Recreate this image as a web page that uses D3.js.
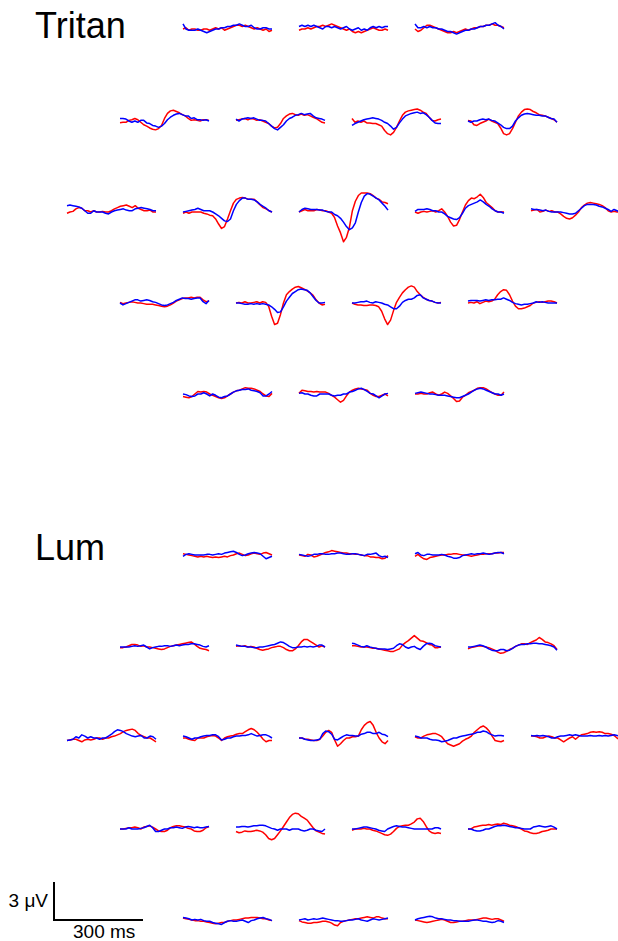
<!DOCTYPE html>
<html>
<head>
<meta charset="utf-8">
<script src="https://cdn.jsdelivr.net/npm/d3@7"></script>
<style>
  html, body { margin: 0; padding: 0; background: #fff; }
  svg { display: block; }
  text { font-family: "Liberation Sans", Arial, Helvetica, sans-serif; fill: #000; }
</style>
</head>
<body>
<svg id="chart" width="618" height="941"></svg>
<script>
// ---------------- DATA ----------------
const panels = ["Tritan", "Lum"];
// electrode layout: traces per row (rows of the montage)
const rowCounts = [3, 4, 5, 4, 3];
// sample times (ms) of each trace
const timesMs = [0,10,20,30,40,50,60,70,80,90,100,110,120,130,140,150,160,170,180,190,200,210,220,230,240,250,260,270,280,290,300];

// Tritan condition – red series (µV), one row per electrode
const tritanRed = [
  [0,0.1,-0.1,0,0,-0.1,-0.1,0,0,-0.1,0,0.1,0,0.1,-0.1,0,0.1,0.2,0.3,0.3,0.2,0.3,0.2,0.1,0,0.1,0,-0.1,0,-0.2,-0.1],
  [-0.1,0,0,0.1,0,0.1,0.2,0.2,0.3,0.2,0.3,0.4,0.3,0.2,0.1,0,-0.1,0,-0.2,-0.3,-0.2,-0.3,-0.2,-0.1,0,0.1,0,-0.1,-0.1,0,-0.1],
  [0,-0.2,-0.1,0.1,0.3,0.3,0.2,0.1,0,-0.1,-0.2,-0.3,-0.3,-0.2,-0.3,-0.2,-0.1,0,-0.1,0,0.1,0.1,0.2,0.2,0.3,0.3,0.4,0.3,0.3,0.2,0.1],
  [-0.13,-0.1,-0.1,0.05,0.1,0.2,0.1,-0.1,-0.3,-0.4,-0.55,-0.65,-0.7,-0.6,-0.35,0.2,0.6,0.8,0.85,0.75,0.65,0.5,0.4,0.2,0.05,0.1,0.05,0,0.1,0.1,0.05],
  [0.05,0.1,0.15,0.2,0.1,0.2,0.15,0.05,0.1,0,-0.1,-0.2,-0.4,-0.55,-0.5,-0.2,0.2,0.4,0.55,0.6,0.5,0.45,0.55,0.45,0.5,0.4,0.3,0.2,0.05,-0.1,-0.15],
  [0.2,-0.1,0,-0.1,0,-0.15,-0.15,-0.2,-0.2,-0.3,-0.4,-0.75,-1.0,-1.1,-0.9,-0.5,0,0.45,0.7,0.8,0.85,0.9,0.95,0.85,0.7,0.6,0.3,0.05,0,0.1,0.15],
  [0.05,0,-0.3,-0.35,-0.2,-0.1,0,0.15,0,-0.1,-0.2,-0.55,-1.0,-1.1,-1.0,-0.6,-0.1,0.4,0.7,0.9,0.95,0.9,0.75,0.65,0.5,0.45,0.4,0.3,0.2,0.1,-0.1],
  [-0.1,0,0.05,0.25,0.35,0.3,0.1,0.1,0,0.1,0,0,0.05,0,0,0.1,0.25,0.35,0.45,0.5,0.55,0.45,0.35,0.5,0.3,0.2,0.1,0.1,0.15,0,0],
  [-0.1,0,-0.1,0,0,0,0,-0.1,-0.15,-0.25,-0.3,-0.55,-0.95,-1.3,-1.15,-0.55,0.1,0.7,1.0,1.1,1.15,1.1,1.0,1.0,1.0,0.8,0.55,0.35,0.25,0.1,0],
  [0,0.1,0.2,0.1,0.1,0.1,0.2,0.15,0.1,0.1,0,-0.1,-0.45,-1.1,-1.65,-2.35,-2.0,-1.2,0.1,0.85,1.3,1.5,1.5,1.5,1.45,1.3,1.1,1.0,0.8,0.75,0.65],
  [0,-0.1,0,0.05,0,0.05,0.1,0,0.1,0.25,0,-0.35,-0.8,-1.1,-1.05,-0.6,0,0.55,0.9,1.1,1.05,1.2,1.4,1.15,0.75,0.55,0.35,0.1,0,0,0],
  [0.1,0.15,0.2,0,0.05,0.15,0.05,0.1,0,0,-0.15,-0.35,-0.5,-0.55,-0.45,-0.25,0,0.35,0.55,0.7,0.75,0.7,0.65,0.6,0.5,0.35,0.1,0,0.05,0,0],
  [0.05,-0.05,0,0.05,0.1,0.05,0,0,-0.05,-0.1,-0.1,-0.1,-0.15,-0.2,-0.25,-0.3,-0.25,-0.15,0,0.15,0.25,0.35,0.4,0.4,0.45,0.4,0.45,0.45,0.25,0.1,0.15],
  [0,0.05,0,0.1,0,0,0.05,0.1,0,0.1,0.05,-0.25,-1.05,-1.7,-1.6,-0.9,0,0.65,0.9,1.1,1.25,1.3,1.2,1.1,0.95,0.8,0.6,0.25,0,-0.15,-0.1],
  [0,-0.1,-0.15,-0.15,-0.2,-0.2,-0.15,-0.15,-0.2,-0.3,-0.65,-1.25,-1.7,-1.35,-0.6,0.05,0.45,0.8,1.05,1.25,1.35,1.25,0.9,0.65,0.45,0.3,0.2,0.15,0.05,0,0.05],
  [0,0.05,0,0.1,-0.05,0.05,0.15,0.1,0.15,0.3,0.65,0.9,1.05,1.0,0.65,0.15,-0.25,-0.45,-0.45,-0.4,-0.3,-0.2,0,0.05,0.1,0.05,0.1,0.15,0.15,0.1,0],
  [-0.2,-0.25,-0.3,-0.2,0,0.2,0.15,0.2,0.15,0,-0.1,-0.2,-0.3,-0.35,-0.3,-0.15,0,0.15,0.25,0.3,0.4,0.5,0.45,0.45,0.4,0.3,0.2,0,-0.15,-0.2,0.05],
  [0.05,0.3,0.25,0.2,0.2,0.15,0.2,0.15,0.15,0.15,0.05,-0.1,-0.25,-0.45,-0.65,-0.5,-0.15,0.15,0.3,0.4,0.45,0.4,0.35,0.3,0.05,-0.1,-0.2,-0.2,-0.1,0,-0.15],
  [0,0,0.05,0,0,0.1,0.15,0,-0.1,0,0.15,0.05,-0.15,-0.35,-0.6,-0.55,-0.25,-0.1,0.1,0.2,0.3,0.45,0.5,0.5,0.4,0.25,0.1,0,-0.1,-0.1,0.15]
];

// Tritan condition – blue series (µV)
const tritanBlue = [
  [0.4,0,-0.1,-0.1,-0.1,0,-0.1,-0.2,-0.3,-0.2,-0.1,0,0,0.1,0.1,0.2,0.2,0.3,0.3,0.4,0.3,0.2,0.2,0.3,0.1,0,0,0.1,0.1,0,0],
  [0.2,0.3,0.2,0.3,0.2,0.3,0.2,0.1,0,0.2,0.2,0.1,0.2,0.1,0,0.1,0.2,0,-0.1,0,0.1,-0.1,0,-0.1,0.1,0.2,0.1,0.2,0.1,0.2,0.2],
  [0.4,0.1,0.1,0.2,0.1,0.2,0.1,0.1,0,0,-0.1,-0.2,-0.2,-0.3,-0.4,-0.3,-0.2,-0.1,-0.1,0,0,0.1,0.2,0.2,0.3,0.3,0.4,0.5,0.3,0.2,0],
  [0.2,0.2,0.15,0,-0.1,0,-0.1,0.05,0.05,-0.15,-0.2,-0.35,-0.4,-0.5,-0.4,-0.2,0.1,0.3,0.45,0.55,0.6,0.5,0.4,0.4,0.2,0.25,0.1,0.1,0.05,0.1,0],
  [0.15,0,0.15,0.2,0.25,0.2,0.25,0.15,0.05,0.05,0,-0.2,-0.4,-0.6,-0.7,-0.5,-0.3,0,0.2,0.3,0.45,0.5,0.6,0.5,0.55,0.6,0.4,0.25,0.2,0.15,0.05],
  [-0.35,-0.2,-0.1,0,0.1,0.15,0.2,0.25,0.2,0.15,0.05,-0.1,-0.2,-0.4,-0.65,-0.5,-0.15,0.15,0.4,0.5,0.6,0.65,0.7,0.6,0.65,0.5,0.3,0.05,-0.15,-0.2,-0.2],
  [0,-0.1,0,0,0.1,0.15,0.1,0.15,0.05,0,-0.15,-0.3,-0.5,-0.6,-0.6,-0.4,0,0.25,0.45,0.55,0.6,0.55,0.5,0.45,0.45,0.4,0.4,0.3,0.2,0.15,-0.1],
  [0.5,0.55,0.5,0.45,0.4,0.3,0.1,-0.1,-0.1,0.1,0,0,0,-0.1,-0.15,0,0.1,0.15,0.2,0.25,0.15,0.1,0.1,0.25,0.3,0.35,0.3,0.25,0.2,0.1,0.1],
  [0,0.05,0.1,0.15,0.2,0.3,0.2,0.1,0.1,0.1,0,-0.15,-0.3,-0.5,-0.7,-0.75,-0.55,0.1,0.6,0.9,1.1,1.1,1.0,1.0,0.95,0.8,0.6,0.45,0.3,0.1,0],
  [0,0.2,0.3,0.25,0.2,0.2,0.2,0.15,0.15,0.05,0,0,-0.2,-0.3,-0.5,-0.8,-1.15,-1.4,-1.25,-0.85,0,0.75,1.25,1.45,1.4,1.25,1.1,0.95,0.7,0.45,0.15],
  [0.05,0.2,0.2,0.2,0.25,0.2,0.1,0.1,0,0,-0.15,-0.35,-0.45,-0.55,-0.6,-0.45,-0.1,0.3,0.5,0.6,0.7,0.8,0.95,0.8,0.6,0.45,0.25,0.1,0,0,-0.1],
  [0.25,0.2,0.2,0.15,0.1,0.15,0.05,0,0,0,0,-0.05,-0.1,-0.15,-0.15,-0.1,0.1,0.3,0.5,0.6,0.6,0.6,0.55,0.45,0.4,0.3,0.2,0.05,0.2,0.1,0],
  [0,-0.15,-0.05,0.05,0.15,0.25,0.25,0.15,0.2,0.25,0.2,0.1,0.05,-0.05,-0.15,-0.2,-0.15,-0.05,0.05,0.2,0.3,0.4,0.35,0.35,0.3,0.35,0.4,0.4,0.1,-0.05,0.2],
  [0,0,-0.05,-0.1,-0.1,-0.05,-0.1,-0.05,-0.1,-0.05,-0.1,-0.15,-0.3,-0.5,-0.75,-0.7,-0.3,0.15,0.45,0.75,0.9,1.05,1.1,1.05,1.0,0.8,0.5,0.2,0,0,0.05],
  [0,0,0.05,0.1,0.1,0.15,0.05,0,0.1,0.05,0,-0.1,-0.15,-0.3,-0.45,-0.45,-0.25,0.05,0.2,0.3,0.3,0.4,0.6,0.65,0.4,0.3,0.2,0.15,0.05,0,0],
  [0.15,0.2,0.2,0.2,0.15,0.2,0.25,0.2,0.25,0.25,0.3,0.3,0.4,0.3,0.2,0.05,-0.05,-0.1,-0.15,-0.1,-0.1,-0.05,0,0.1,0.05,0.1,0.05,0,0,0,0],
  [0,-0.05,-0.15,-0.2,-0.15,0,0,0.1,0,-0.15,0,-0.1,-0.25,-0.3,-0.2,-0.15,0,0.15,0.25,0.3,0.35,0.35,0.4,0.3,0.25,0.2,0.1,-0.15,-0.15,0,0.2],
  [0.05,0.1,0,0,-0.1,-0.15,-0.15,0,0,0,0,-0.1,-0.15,-0.1,-0.1,0,0,0.15,0.2,0.3,0.4,0.45,0.35,0.2,0.05,0,-0.15,-0.3,-0.15,0,0.05],
  [0.05,0.1,0.15,0.1,0.05,0,0,-0.05,-0.1,-0.1,-0.1,-0.15,-0.2,-0.25,-0.3,-0.3,-0.2,-0.1,0,0.15,0.3,0.4,0.45,0.4,0.3,0.2,0.1,0,0,-0.1,0]
];

// Luminance condition – red series (µV)
const lumRed = [
  [0.1,0.05,0,-0.05,-0.1,-0.15,-0.1,-0.15,-0.1,-0.15,-0.2,-0.15,-0.2,-0.15,-0.1,-0.15,-0.05,0,0.1,0.15,0.05,-0.05,0,0.1,0.15,0.1,0.05,0.15,0.2,0.1,0],
  [0,-0.05,-0.1,0.05,0,-0.15,-0.1,0,0.1,0.2,0.25,0.35,0.3,0.25,0.2,0.15,0.15,0.1,0.1,0.05,0.05,0,-0.05,-0.05,-0.15,-0.15,-0.2,-0.2,-0.3,-0.25,-0.05],
  [-0.1,0.05,-0.15,-0.3,-0.35,-0.2,-0.15,-0.1,-0.05,0,0,0.05,0.05,0.1,0.1,0.05,0,0,-0.05,-0.1,-0.05,0,0.05,0.05,0.1,0.1,0.1,0.15,0.15,0.2,0.2],
  [-0.05,-0.05,0,0.1,0.2,0.2,0.15,0.05,0.1,0,0,-0.05,-0.1,-0.15,-0.2,-0.15,-0.05,0.05,0.1,0.15,0.2,0.25,0.3,0.35,0.4,0.25,0.05,-0.1,-0.15,-0.2,-0.3],
  [0.05,0.1,0.05,0.1,0,0.05,0,-0.1,-0.2,-0.25,-0.2,-0.15,-0.05,0,0.05,0.05,-0.05,-0.2,-0.3,-0.3,-0.15,0.1,0.4,0.6,0.6,0.45,0.3,0.15,0,0.1,0],
  [0.1,0.1,0.05,0,0,0,-0.05,-0.1,-0.1,-0.15,-0.2,-0.25,-0.3,-0.35,-0.35,-0.25,-0.15,0.15,0.35,0.5,0.7,0.9,0.7,0.5,0.45,0.35,0.2,0.15,-0.05,-0.05,0],
  [-0.15,-0.05,0,0.05,0.1,0.05,0,-0.05,-0.15,-0.25,-0.4,-0.5,-0.45,-0.35,-0.2,-0.1,0.05,0.15,0.25,0.25,0.2,0.35,0.45,0.55,0.75,0.6,0.4,0.35,0.25,0.1,-0.2],
  [-0.2,-0.15,-0.1,-0.1,-0.2,-0.3,-0.15,-0.1,-0.15,-0.1,0,0,-0.1,0,0,0.1,0.15,0.25,0.35,0.5,0.6,0.65,0.7,0.6,0.35,0.2,0.1,0,0,-0.15,-0.3],
  [0,0,-0.1,-0.15,-0.2,0,0,0,0.1,0.15,0.2,0.15,0,-0.2,0,0.1,0.15,0.2,0.3,0.35,0.35,0.5,0.65,0.75,0.65,0.45,0.2,-0.1,-0.3,-0.2,-0.2],
  [0,0,-0.1,-0.1,-0.15,-0.2,-0.2,-0.1,0.15,0.45,0.6,0.45,-0.15,-0.65,-0.45,-0.2,0,0,0.1,0.1,0.15,0.65,1.0,1.2,1.3,1.0,0.45,0,-0.3,-0.45,-0.2],
  [0.1,0,0,0.15,0.25,0.3,0.35,0.35,0.25,0.1,-0.2,-0.45,-0.55,-0.65,-0.55,-0.45,-0.25,-0.1,0,0.15,0.45,0.65,0.85,0.95,0.8,0.55,0.15,-0.2,-0.25,-0.3,-0.2],
  [0.15,0.15,0.1,0,0,0.1,0.15,0.1,0,0,-0.15,-0.3,-0.15,0,0.1,-0.1,0.1,0.25,0.3,0.35,0.45,0.5,0.45,0.5,0.45,0.35,0.35,0.3,0.2,0,-0.15],
  [0,0,0.05,0.1,0.1,0.15,0.1,0,0.15,0.2,0.25,0.15,0,-0.15,-0.2,-0.2,-0.1,0.1,0.2,0.25,0.25,0.2,0.15,0.05,0,-0.15,-0.2,-0.2,-0.1,0.1,0.2],
  [-0.2,-0.3,-0.25,-0.15,-0.2,-0.2,-0.15,-0.1,-0.15,-0.25,-0.45,-0.75,-0.85,-0.75,-0.45,-0.15,0.2,0.55,0.9,1.15,1.25,1.2,1.0,0.85,0.7,0.4,0.1,-0.15,-0.25,-0.35,-0.4],
  [-0.1,0,0,0,0.05,0,0,-0.1,-0.15,-0.25,-0.35,-0.45,-0.5,-0.4,-0.2,0.05,0.2,0.25,0.3,0.3,0.4,0.55,0.8,0.85,0.6,0.2,-0.15,-0.3,-0.35,-0.3,-0.35],
  [0,0,0.15,0.2,0.25,0.3,0.3,0.35,0.3,0.35,0.4,0.35,0.45,0.4,0.3,0.25,0.2,0.1,0,-0.15,-0.2,-0.3,-0.35,-0.35,-0.3,-0.2,-0.15,-0.1,0,0,0],
  [0.15,0.1,0.05,0,-0.05,-0.05,-0.1,-0.1,-0.15,-0.2,-0.25,-0.3,-0.25,-0.2,-0.2,-0.1,-0.05,0,0,0.05,0.1,0.15,0.15,0.2,0.2,0.2,0.15,0.1,0.1,0,-0.05],
  [-0.05,-0.15,-0.2,-0.25,-0.25,-0.2,-0.2,-0.15,-0.1,-0.1,-0.15,-0.25,-0.4,-0.45,-0.2,-0.1,-0.05,0,0.05,0.1,0.1,0.15,0.2,0.25,0.2,0.15,0.25,0.25,0.15,0.1,0.1],
  [0,-0.05,-0.1,-0.15,-0.2,-0.15,-0.1,-0.05,0,0.05,0,-0.1,-0.2,-0.2,-0.15,-0.1,-0.1,-0.05,0,0,0,0.05,0.1,0.15,0.15,0.1,0.05,0.1,0.1,0,-0.1]
];

// Luminance condition – blue series (µV)
const lumBlue = [
  [-0.1,0.05,0.1,0.05,0,0,0,0,0.05,0.05,0,0.05,0.1,0.05,0.15,0.2,0.25,0.3,0.2,0.05,-0.05,0,0.1,0.15,0.2,0.15,0.1,-0.1,-0.3,-0.2,-0.1],
  [0.05,0,-0.05,-0.1,-0.05,0.05,0.05,0.1,0.1,0.05,0.05,0.1,0.1,0.15,0.15,0.1,0.05,0.05,0.1,0.1,0.05,0,-0.05,0.05,0.05,0.1,0.15,-0.05,-0.15,-0.1,-0.2],
  [0.1,0.2,0,-0.05,0.05,0.05,0,0,0,0.05,0,-0.1,-0.15,-0.25,-0.25,-0.2,-0.05,0,0.05,0.1,0.05,0.1,0.1,0.15,0.1,0.05,0.1,0.15,0.2,0.2,0.1],
  [0,0,0,0,0.05,0.1,0.05,0.1,0.15,0,-0.15,-0.05,0,0.05,0.05,0.1,0.1,0.05,0.1,0.15,0.1,0.15,0.2,0.2,0.25,0.25,0.2,0.15,0.05,0,0.1],
  [0.15,0.1,0.05,0.05,0,0,-0.05,-0.05,0,0,0.05,0.1,0.15,0.2,0.3,0.4,0.35,0.2,0.05,-0.05,-0.05,0,0,0.05,0,0.05,0,0.05,0.15,0.15,0],
  [0.3,0.25,0.15,0.05,0,0.1,0,-0.05,-0.1,-0.15,-0.15,-0.15,-0.2,-0.15,-0.1,0.1,0.25,0.2,0,-0.1,0,0.05,-0.1,-0.2,0.05,0.25,0.3,0.25,0.1,0.05,0],
  [0,0,0.05,0.1,0.15,0.1,0,-0.15,-0.25,-0.3,-0.3,-0.2,-0.2,-0.3,-0.25,-0.1,0.05,0.15,0.2,0.2,0.25,0.25,0.3,0.3,0.25,0.25,0.2,0.15,0.1,0,-0.25],
  [-0.2,-0.15,-0.1,0.1,0,0.25,0.15,0,0.1,0,0,-0.1,0,0,0.15,0.3,0.5,0.65,0.6,0.5,0.35,0.25,0.15,0.1,0.15,0.2,0,0,0.15,0.1,-0.1],
  [0.15,0.1,0,-0.1,0,0,0.1,0.15,0.2,0.2,0.25,0.25,0.1,-0.15,-0.1,0,0,0.1,0.15,0.15,0.2,0.2,0.25,0.35,0.25,0.15,0.2,0.25,0.25,0.15,0],
  [0,0,-0.1,-0.15,-0.2,-0.2,-0.15,-0.1,0.35,0.55,0.5,0.3,-0.1,-0.15,0,0.15,0.25,0.2,0.2,0.15,0.15,0.3,0.35,0.45,0.45,0.35,0.35,0.45,0.3,0.25,0.1],
  [0.15,0.1,0,0,0,-0.1,-0.15,-0.15,-0.2,-0.3,-0.25,-0.2,-0.1,0,0,0.1,0.15,0.2,0.25,0.3,0.35,0.45,0.45,0.55,0.5,0.35,0.25,0.15,0.2,0.2,0.15],
  [0.2,0.15,0.2,0.15,0.2,0.15,0.1,0,0,0.1,0.15,0.15,0.2,0.25,0.2,0.25,0.2,0.15,0.15,0.15,0.2,0.15,0.15,0.2,0.15,0.2,0.15,0.2,0.25,0.2,0.15],
  [0,0,0,0.1,0,0,0,0.05,0.1,0.2,0.3,0.1,-0.2,-0.2,-0.1,0,0,0.1,0.1,0.15,0.1,0.05,0.15,0.2,0.15,0.1,0.15,0.1,0.1,0.15,0.2],
  [0.15,0.15,0.2,0.2,0.15,0.2,0.25,0.25,0.3,0.3,0.25,0.15,0.05,0,-0.1,0,0,0,-0.1,0,0,0,-0.1,-0.15,-0.1,0,0,-0.1,-0.15,-0.2,0],
  [0,0,0.05,0.1,0.15,0.15,0.1,0.05,0,-0.1,-0.15,-0.2,0,0.1,0.2,0.25,0.2,0.15,0.15,0.1,0.05,0,0,0,0,0,0,0,0.1,0.1,0],
  [0,0,-0.1,-0.15,-0.15,-0.1,0,0,0.1,0.2,0.25,0.25,0.3,0.25,0.2,0.15,0.1,0.1,0.05,0,0,0,0.15,0.2,0.25,0.2,0.15,0.2,0.25,0.15,0],
  [0.2,0.15,0.1,0,0.05,0,0.05,-0.05,-0.1,-0.1,-0.2,-0.25,-0.3,-0.35,-0.2,-0.1,-0.05,-0.1,-0.1,-0.05,0,-0.1,-0.2,-0.05,0,0.1,0.15,0.2,0.1,0.05,-0.05],
  [0,0.05,0.1,0,0.05,0.1,0.05,0.1,0.15,0.1,0.05,0,-0.05,-0.05,-0.1,-0.1,-0.05,0,0,0.05,0.1,0,-0.05,-0.1,0,0.1,0.05,0,0.05,0.1,0.15],
  [0,0.1,0.15,0.2,0.25,0.3,0.25,0.15,0.1,0.1,0.05,0,0,-0.05,-0.05,-0.1,-0.1,-0.1,-0.1,-0.05,0,0,-0.05,-0.1,-0.1,-0.15,-0.2,-0.15,-0.05,-0.1,-0.2]
];

// scale bar values
const scaleBarUV = 3;
const scaleBarMs = 300;
const scaleBarLabels = ["3 \u03bcV", "300 ms"];

// ---------------- LAYOUT ----------------
const rowLeft = [183, 120, 67, 120, 183];   // x of first trace in each row
const colStep = 116;
const rowBase = [29, 121, 212, 303, 394];   // baseline y of each row
const panelOffset = [0, 526];
const titlePos = [[35, 38], [35, 560]];

const x = d3.scaleLinear().domain([0, 300]).range([0, 89]);
const y = d3.scaleLinear().domain([-3, 3]).range([38, -38]);

const line = d3.line()
  .x((d, i) => x(timesMs[i]))
  .y(d => y(d))
  .curve(d3.curveLinear);

const svg = d3.select("#chart");

const seriesByPanel = [
  { red: tritanRed, blue: tritanBlue },
  { red: lumRed, blue: lumBlue }
];

panels.forEach((name, p) => {
  svg.append("text")
    .attr("x", titlePos[p][0])
    .attr("y", titlePos[p][1])
    .attr("font-size", 36)
    .text(name);

  let k = 0;
  rowCounts.forEach((n, r) => {
    for (let c = 0; c < n; c++, k++) {
      const g = svg.append("g")
        .attr("transform", `translate(${rowLeft[r] + c * colStep},${rowBase[r] + panelOffset[p]})`);
      g.append("path")
        .attr("d", line(seriesByPanel[p].red[k]))
        .attr("fill", "none")
        .attr("stroke", "#ff0000")
        .attr("stroke-width", 1.5)
        .attr("stroke-linejoin", "round");
      g.append("path")
        .attr("d", line(seriesByPanel[p].blue[k]))
        .attr("fill", "none")
        .attr("stroke", "#0000ff")
        .attr("stroke-width", 1.5)
        .attr("stroke-linejoin", "round");
    }
  });
});

// scale bar
const sb = svg.append("g").attr("transform", "translate(54,920)");
sb.append("path")
  .attr("d", `M0,${y(scaleBarUV)}V${y(0)}H${x(scaleBarMs)}`)
  .attr("fill", "none")
  .attr("stroke", "#000")
  .attr("stroke-width", 2);
sb.append("text")
  .attr("x", -6).attr("y", -13)
  .attr("text-anchor", "end")
  .attr("font-size", 19)
  .text(scaleBarLabels[0]);
sb.append("text")
  .attr("x", 19).attr("y", 18)
  .attr("font-size", 19)
  .text(scaleBarLabels[1]);
</script>
</body>
</html>
